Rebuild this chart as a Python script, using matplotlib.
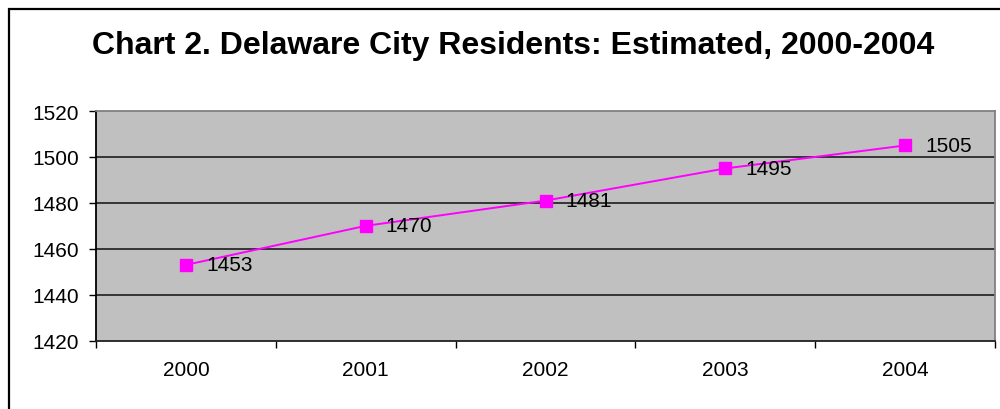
import matplotlib
matplotlib.use("Agg")
import matplotlib.pyplot as plt
from matplotlib.patches import Rectangle

plt.rcParams['font.family'] = ['Liberation Sans', 'DejaVu Sans']

years = ['2000', '2001', '2002', '2003', '2004']
residents = [1453, 1470, 1481, 1495, 1505]
yticks = [1420, 1440, 1460, 1480, 1500, 1520]

fig = plt.figure(figsize=(10, 4.1), dpi=100)
ax = fig.add_axes([0.096, 0.1666, 0.899, 0.5602])
ax.set_facecolor('#C0C0C0')

xs = list(range(len(years)))
ax.plot(xs, residents, color='#FF00FF', lw=1.4, marker='s', markersize=8.8,
        markeredgecolor='#FF00FF', zorder=3)
for x, v in zip(xs, residents):
    ax.annotate(str(v), (x, v), xytext=(20, 0), textcoords='offset pixels',
                ha='left', va='center', fontsize=15, zorder=4)

ax.set_xlim(-0.5, len(years) - 0.5)
ax.set_ylim(1420, 1520)
ax.set_yticks(yticks)
ax.set_yticklabels([str(t) for t in yticks])
for t in yticks[1:-1]:
    ax.axhline(t, color='#2a2a2a', lw=1.3, zorder=1)

ax.set_xticks(xs)
ax.set_xticklabels(years)
ax.set_xticks([i - 0.5 for i in range(len(years) + 1)], minor=True)
ax.tick_params(axis='x', which='major', length=0, pad=14, labelsize=15)
ax.tick_params(axis='x', which='minor', length=5, width=1, direction='out', color='black')
ax.tick_params(axis='y', length=5, width=1, direction='out', pad=7, labelsize=15)

ax.spines['left'].set_color('black')
ax.spines['bottom'].set_color('#202020')
ax.spines['top'].set_color('#808080')
ax.spines['right'].set_color('#808080')
for s in ax.spines.values():
    s.set_linewidth(1.3)

fig.text(0.513, 1 - 54 / 410, 'Chart 2. Delaware City Residents: Estimated, 2000-2004',
         ha='center', va='baseline', fontsize=23, fontweight='bold')

# chart frame
fig.patches.append(Rectangle((0.009, -0.1), 1.2, 1.1 - 10 / 410, transform=fig.transFigure,
                             fill=False, edgecolor='black', lw=1.6, clip_on=False))

fig.savefig('out.png', dpi=100)
